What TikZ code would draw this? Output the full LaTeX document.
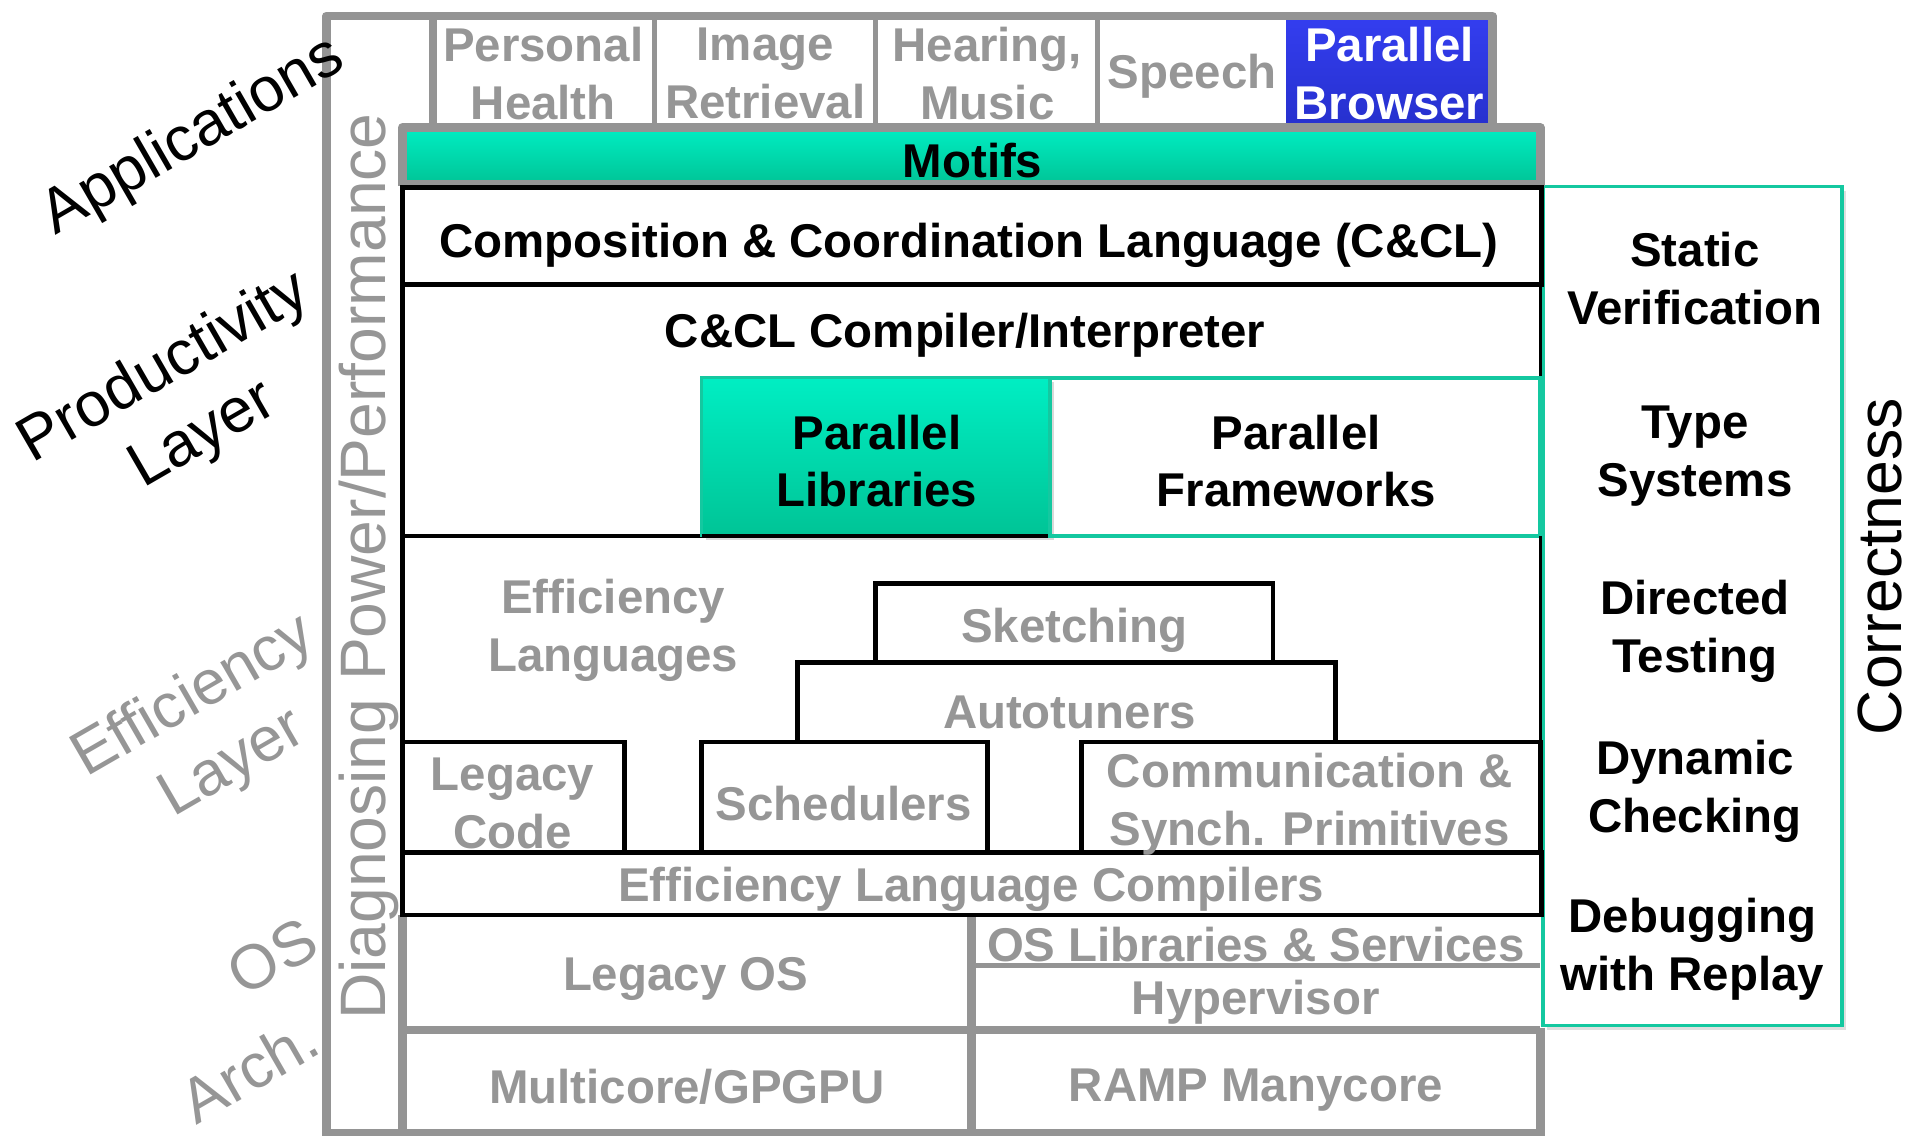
\documentclass[tikz,border=0pt]{standalone}
\usepackage{fontspec}
\setmainfont{Liberation Sans}
\usepackage{xcolor}
\usepackage{tikz}
\usetikzlibrary{shadows}

\definecolor{framegray}{RGB}{148,148,148}
\definecolor{txtgray}{RGB}{150,150,150}
\definecolor{tealline}{RGB}{20,200,160}
\definecolor{tealtop}{RGB}{0,238,195}
\definecolor{tealbot}{RGB}{0,196,150}
\definecolor{browsertop}{RGB}{52,62,240}
\definecolor{browserbot}{RGB}{38,48,205}

\tikzset{
  lbl/.style={font=\fontsize{11}{13.4}\selectfont\bfseries, align=center, inner sep=0pt},
  glbl/.style={lbl, text=txtgray},
  layer/.style={font=\fontsize{14.5}{18}\selectfont, align=center, inner sep=0pt, rotate=30},
  gframe/.style={draw=framegray, line width=2pt},
  gthin/.style={draw=framegray, line width=1.2pt},
  bbox/.style={draw=black, line width=1.1pt},
  tealfill/.style={top color=tealtop, bottom color=tealbot},
}

\begin{document}
\begin{tikzpicture}[x=0.1mm, y=-0.1mm]
\useasboundingbox (0,0) rectangle (1568,926);

% correctness column
\draw[tealline, line width=0.8pt, fill=white,
  drop shadow={opacity=0.25, shadow xshift=1pt, shadow yshift=-1pt}]
  (1258,152) rectangle (1502,836);

% applications
\fill[top color=browsertop, bottom color=browserbot] (1049,13) rectangle (1217,104);
\draw[gthin] (534,13) -- (534,104);
\draw[gthin] (714,13) -- (714,104);
\draw[gthin] (895,13) -- (895,104);

% motifs
\fill[tealfill] (328,104) rectangle (1256,150);

% gray frame
\draw[gframe, line join=round] (266,926) -- (266,13) -- (1217,13) -- (1217,104) -- (1256,104) -- (1256,152);
\draw[gframe, line join=round] (353,13) -- (353,104) -- (328,104) -- (328,152);
\draw[gframe] (328,104) -- (1217,104);
\draw[gframe] (328,150) -- (1256,150);

% productivity layer
\draw[black, line width=0.6pt] (1256,232) -- (1256,308);
\draw[bbox] (328,232) -- (328,437) -- (572,437);
\fill[tealfill, draw=tealline, line width=0.6pt,
  drop shadow={opacity=0.3, shadow xshift=1pt, shadow yshift=-1pt}]
  (572,308) rectangle (856,437);
\draw[black, line width=0.8pt] (572,437) -- (856,437);
\draw[tealline, line width=0.9pt] (856,308) rectangle (1256,437);
\draw[bbox] (328,153) rectangle (1257,232);

% efficiency layer
\draw[bbox] (328,437) -- (328,746);
\draw[black, line width=0.6pt] (1256,437) -- (1256,605);
\draw[bbox] (714,540) |- (1038,476) -- (1038,540);
\draw[bbox] (650,605) |- (1089,540) -- (1089,605);
\draw[bbox] (328,605) -| (509,695);
\draw[bbox] (572,695) |- (805,605) -- (805,695);
\draw[bbox] (882,695) |- (1256,605) -- (1256,695);

% os and arch
\draw[gframe] (328,746) -- (328,926);
\draw[gframe] (792,746) -- (792,926);
\draw[gthin] (792,787) -- (1256,787);
\draw[gframe] (328,840) -- (1256,840);
\draw[gframe] (1256,838) -- (1256,926);
\draw[gframe] (266,924) -- (1256,924);
\draw[bbox] (328,695) rectangle (1257,746);

\node[glbl] (health) at (443,60) {Personal\\Health};
\node[glbl] (image) at (624,60) {Image\\Retrieval};
\node[glbl] (hearing) at (805,60) {Hearing,\\Music};
\node[glbl] (speech) at (972,62) {Speech};
\node[lbl, text=white] (browser) at (1133,60) {Parallel\\Browser};
\node[lbl] (motifs) at (793,131) {Motifs};

\node[lbl] (ccl) at (790,200) {Composition \& Coordination Language (C\&CL)};
\node[lbl] (compiler) at (787,273) {C\&CL Compiler/Interpreter};
\node[lbl] (plib) at (715,376) {Parallel\\Libraries};
\node[lbl] (pframe) at (1057,376) {Parallel\\Frameworks};

\node[glbl] (efflang) at (500,514) {Efficiency\\Languages};
\node[glbl] (sketch) at (876,514) {Sketching};
\node[glbl] (autotune) at (872,581) {Autotuners};
\node[glbl] (legacy) at (418,655) {Legacy\\Code};
\node[glbl] (sched) at (688,655) {Schedulers};
\node[glbl] (comm) at (1068,656) {Communication \&\\Synch. Primitives};
\node[glbl] (elc) at (792,725) {Efficiency Language Compilers};

\node[glbl] (legacyos) at (559,798) {Legacy OS};
\node[glbl] (oslib) at (1024,770) {OS Libraries \& Services};
\node[glbl] (hyper) at (1024,817) {Hypervisor};
\node[glbl] (multi) at (560,886) {Multicore/GPGPU};
\node[glbl] (ramp) at (1024,889) {RAMP Manycore};

\node[lbl] (static) at (1382,227) {Static\\Verification};
\node[lbl] (types) at (1382,372) {Type\\Systems};
\node[lbl] (directed) at (1382,515) {Directed\\Testing};
\node[lbl] (dynamic) at (1382,645) {Dynamic\\Checking};
\node[lbl] (debug) at (1380,774) {Debugging\\with Replay};

\node[inner sep=0pt, rotate=90, font=\fontsize{14.5}{18}\selectfont] (correct) at (1533,462) {Correctness};
\node[inner sep=0pt, rotate=90, text=txtgray, font=\fontsize{14.9}{18}\selectfont] (diag) at (301,462) {Diagnosing Power/Performance};

\node[layer] (apps) at (158,112) {Applications};
\node[layer] (prod) at (150,328) {Productivity\\Layer};
\node[layer, text=txtgray] (eff) at (174,596) {Efficiency\\Layer};
\node[layer, text=txtgray] (os) at (222,780) {OS};
\node[layer, text=txtgray] (arch) at (203,872) {Arch.};
\end{tikzpicture}
\end{document}
